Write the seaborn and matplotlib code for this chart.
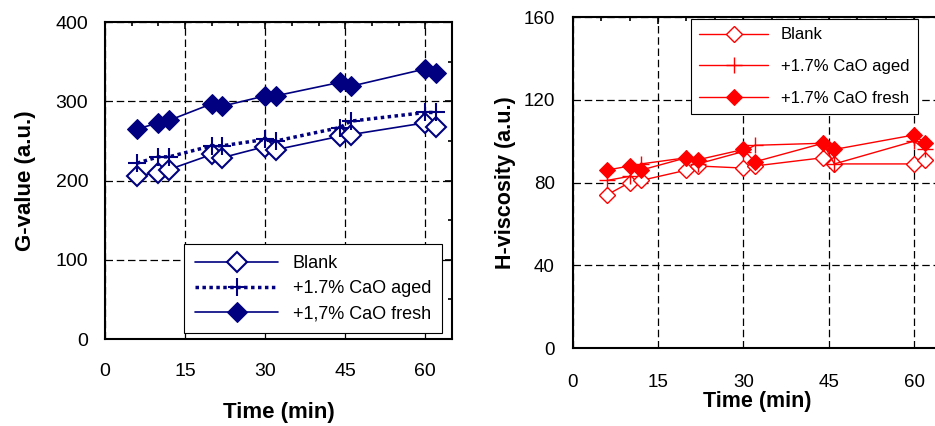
import numpy as np
import pandas as pd
import seaborn as sns
import matplotlib.pyplot as plt
from matplotlib.ticker import MultipleLocator

# sampling times (min)
time = [6, 10, 12, 20, 22, 30, 32, 44, 46, 60, 62]

# G-value (a.u.)
g_blank = [206, 210, 214, 233, 229, 243, 239, 256, 258, 273, 268]
g_aged = [222, 230, 230, 244, 244, 252, 250, 267, 275, 286, 286]
g_fresh = [265, 273, 276, 297, 294, 307, 307, 324, 319, 341, 336]

# H-viscosity (a.u.)
h_blank = [74, 80, 81, 86, 88, 87, 88, 92, 89, 89, 91]
h_aged = [81, 83, 89, 92, 89, 95, 98, 99, 89, 100, 96]
h_fresh = [86, 88, 86, 92, 91, 96, 90, 99, 96, 103, 99]

left_labels = ["Blank", "+1.7% CaO aged", "+1,7% CaO fresh"]
right_labels = ["Blank", "+1.7% CaO aged", "+1.7% CaO fresh"]

sns.set_style("white")
plt.rcParams["font.family"] = ["Liberation Sans", "DejaVu Sans"]
plt.rcParams["text.color"] = "black"
plt.rcParams["axes.labelcolor"] = "black"
plt.rcParams["xtick.color"] = "black"
plt.rcParams["ytick.color"] = "black"

fig = plt.figure(figsize=(9.35, 4.26), dpi=100)
ax1 = fig.add_axes([0.1123, 0.204, 0.3711, 0.744])
ax2 = fig.add_axes([0.6125, 0.183, 0.3955, 0.777])

navy = "#000080"
red = "#ff0000"


def style_axes(ax, ylim, ymaj, ymin, fs, xpad, ypad):
    ax.set_xlim(0, 65)
    ax.set_ylim(*ylim)
    ax.xaxis.set_major_locator(MultipleLocator(15))
    ax.xaxis.set_minor_locator(MultipleLocator(5))
    ax.yaxis.set_major_locator(MultipleLocator(ymaj))
    ax.yaxis.set_minor_locator(MultipleLocator(ymin))
    ax.grid(True, which="major", color="black", linestyle=(0, (6, 3)), linewidth=0.9)
    ax.set_axisbelow(True)
    ax.tick_params(which="both", direction="in", top=True, right=True,
                   labelsize=fs, color="black", labelcolor="black", width=1.2)
    ax.tick_params(which="major", length=5)
    ax.tick_params(which="minor", length=3)
    ax.tick_params(axis="x", pad=xpad)
    ax.tick_params(axis="y", pad=ypad)
    for s in ax.spines.values():
        s.set_color("black")
        s.set_linewidth(1.5)


# ---- left: G-value ----
sns.lineplot(x=time, y=g_blank, ax=ax1, color=navy, lw=1.2, marker="D", ms=10,
             mfc="white", mec=navy, mew=1.5, label=left_labels[0])
sns.lineplot(x=time, y=g_aged, ax=ax1, color=navy, lw=2.5, linestyle=(0, (1, 1)),
             marker="+", ms=13, mec=navy, mew=1.5, label=left_labels[1])
sns.lineplot(x=time, y=g_fresh, ax=ax1, color=navy, lw=1.2, marker="D", ms=10,
             mfc=navy, mec=navy, label=left_labels[2])
style_axes(ax1, (0, 400), 100, 50, 14, 17.5, 12)
ax1.set_xlabel("Time (min)", fontsize=16, fontweight="bold", labelpad=15.5)
ax1.set_ylabel("G-value (a.u.)", fontsize=16, fontweight="bold", labelpad=14)
leg1 = ax1.legend(loc="lower right", bbox_to_anchor=(0.971, 0.019), borderaxespad=0,
                  fontsize=13, handlelength=4.6, frameon=True, fancybox=False,
                  framealpha=1, edgecolor="black", borderpad=0.6, labelspacing=0.45)
leg1.get_frame().set_linewidth(0.8)

# ---- right: H-viscosity ----
sns.lineplot(x=time, y=h_blank, ax=ax2, color=red, lw=1, marker="D", ms=8,
             mfc="white", mec=red, mew=1, label=right_labels[0])
sns.lineplot(x=time, y=h_aged, ax=ax2, color=red, lw=1, marker="+", ms=12,
             mec=red, mew=1, label=right_labels[1])
sns.lineplot(x=time, y=h_fresh, ax=ax2, color=red, lw=1, marker="D", ms=8,
             mfc=red, mec=red, label=right_labels[2])
style_axes(ax2, (0, 160), 40, 20, 13.5, 19, 13)
ax2.set_xlabel("Time (min)", fontsize=15.5, fontweight="bold", labelpad=0)
ax2.set_ylabel("H-viscosity (a.u.)", fontsize=15.5, fontweight="bold", labelpad=5)
leg2 = ax2.legend(loc="upper left", bbox_to_anchor=(0.32, 0.994), borderaxespad=0,
                  fontsize=12, handlelength=4.1, frameon=True, fancybox=False,
                  framealpha=1, edgecolor="black", borderpad=0.5, labelspacing=1.0)
leg2.get_frame().set_linewidth(0.8)

plt.savefig("out.png", dpi=100)
